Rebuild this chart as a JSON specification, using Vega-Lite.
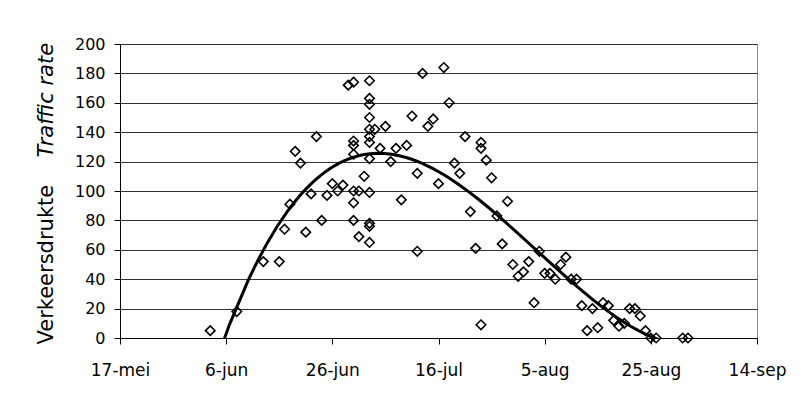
{
  "$schema": "https://vega.github.io/schema/vega-lite/v6.json",
  "width": 637,
  "height": 294,
  "autosize": {"type": "none"},
  "padding": {"left": 120, "top": 44, "right": 44, "bottom": 60},
  "background": "white",
  "data": {
    "values": [
      {"day": 154, "value": 5},
      {"day": 159, "value": 18},
      {"day": 164, "value": 52},
      {"day": 167, "value": 52},
      {"day": 168, "value": 74},
      {"day": 169, "value": 91},
      {"day": 170, "value": 127},
      {"day": 171, "value": 119},
      {"day": 172, "value": 72},
      {"day": 173, "value": 98},
      {"day": 174, "value": 137},
      {"day": 175, "value": 80},
      {"day": 176, "value": 97},
      {"day": 177, "value": 105},
      {"day": 178, "value": 100},
      {"day": 179, "value": 104},
      {"day": 180, "value": 172},
      {"day": 181, "value": 174},
      {"day": 181, "value": 134},
      {"day": 181, "value": 131},
      {"day": 181, "value": 125},
      {"day": 181, "value": 100},
      {"day": 181, "value": 92},
      {"day": 181, "value": 80},
      {"day": 182, "value": 100},
      {"day": 182, "value": 69},
      {"day": 183, "value": 110},
      {"day": 184, "value": 175},
      {"day": 184, "value": 163},
      {"day": 184, "value": 159},
      {"day": 184, "value": 150},
      {"day": 184, "value": 142},
      {"day": 184, "value": 137},
      {"day": 184, "value": 133},
      {"day": 184, "value": 122},
      {"day": 184, "value": 99},
      {"day": 184, "value": 78},
      {"day": 184, "value": 76},
      {"day": 184, "value": 65},
      {"day": 185, "value": 142},
      {"day": 186, "value": 129},
      {"day": 187, "value": 144},
      {"day": 188, "value": 120},
      {"day": 189, "value": 129},
      {"day": 190, "value": 94},
      {"day": 191, "value": 131},
      {"day": 192, "value": 151},
      {"day": 193, "value": 112},
      {"day": 193, "value": 59},
      {"day": 194, "value": 180},
      {"day": 195, "value": 144},
      {"day": 196, "value": 149},
      {"day": 197, "value": 105},
      {"day": 198, "value": 184},
      {"day": 199, "value": 160},
      {"day": 200, "value": 119},
      {"day": 201, "value": 112},
      {"day": 202, "value": 137},
      {"day": 203, "value": 86},
      {"day": 204, "value": 61},
      {"day": 205, "value": 133},
      {"day": 205, "value": 129},
      {"day": 205, "value": 9},
      {"day": 206, "value": 121},
      {"day": 207, "value": 109},
      {"day": 208, "value": 83},
      {"day": 209, "value": 64},
      {"day": 210, "value": 93},
      {"day": 211, "value": 50},
      {"day": 212, "value": 42},
      {"day": 213, "value": 45},
      {"day": 214, "value": 52},
      {"day": 215, "value": 24},
      {"day": 216, "value": 59},
      {"day": 217, "value": 44},
      {"day": 218, "value": 44},
      {"day": 219, "value": 40},
      {"day": 220, "value": 50},
      {"day": 221, "value": 55},
      {"day": 222, "value": 40},
      {"day": 223, "value": 40},
      {"day": 224, "value": 22},
      {"day": 225, "value": 5},
      {"day": 226, "value": 20},
      {"day": 227, "value": 7},
      {"day": 228, "value": 24},
      {"day": 229, "value": 22},
      {"day": 230, "value": 12},
      {"day": 231, "value": 8},
      {"day": 232, "value": 10},
      {"day": 233, "value": 20},
      {"day": 234, "value": 20},
      {"day": 235, "value": 15},
      {"day": 236, "value": 5},
      {"day": 237, "value": 0},
      {"day": 238, "value": 0},
      {"day": 243, "value": 0},
      {"day": 244, "value": 0}
    ]
  },
  "layer": [
    {
      "mark": {"type": "point", "shape": "diamond", "filled": false, "stroke": "black", "strokeWidth": 1.6, "size": 90, "opacity": 1},
      "encoding": {
        "x": {
          "field": "day",
          "type": "quantitative",
          "scale": {"domain": [137, 257], "nice": false, "zero": false},
          "axis": {
            "title": null,
            "values": [137, 157, 177, 197, 217, 237, 257],
            "labelExpr": "timeFormat(datetime(2006, 0, datum.value), '%-d-%b')",
            "grid": false,
            "labelFontSize": 17,
            "labelPadding": 18,
            "tickSize": 6,
            "labelAngle": 0,
            "labelOverlap": false,
            "labelFlush": false
          }
        },
        "y": {
          "field": "value",
          "type": "quantitative",
          "scale": {"domain": [0, 200], "nice": false},
          "axis": {
            "values": [0, 20, 40, 60, 80, 100, 120, 140, 160, 180, 200],
            "grid": true,
            "gridColor": "#333333",
            "gridOpacity": 1,
            "labelFontSize": 16,
            "labelPadding": 9,
            "tickSize": 6,
            "title": "Verkeersdrukte",
            "titleFontSize": 21,
            "titleAngle": 270,
            "titleX": -68,
            "titleY": 300,
            "titleAlign": "left",
            "titleBaseline": "alphabetic"
          }
        }
      }
    },
    {
      "transform": [{"regression": "value", "on": "day", "method": "poly", "order": 3}],
      "mark": {"type": "line", "color": "black", "strokeWidth": 3, "clip": true},
      "encoding": {
        "x": {"field": "day", "type": "quantitative"},
        "y": {
          "field": "value",
          "type": "quantitative",
          "scale": {"domain": [0, 200], "nice": false},
          "axis": {
            "orient": "left",
            "title": "Traffic rate",
            "titleFontStyle": "italic",
            "titleFontSize": 21,
            "titleAngle": 270,
            "titleX": -68,
            "titleY": 113,
            "titleAlign": "left",
            "titleBaseline": "alphabetic",
            "labels": false,
            "ticks": false,
            "domain": false,
            "grid": false
          }
        }
      }
    }
  ],
  "resolve": {"axis": {"y": "independent"}},
  "config": {
    "font": "DejaVu Sans",
    "view": {"stroke": "#8c8c8c", "strokeWidth": 1},
    "axis": {
      "domainColor": "black",
      "tickColor": "black",
      "labelColor": "black",
      "titleColor": "black",
      "labelFont": "DejaVu Sans",
      "titleFont": "DejaVu Sans",
      "titleFontWeight": "normal"
    },
    "locale": {
      "time": {
        "dateTime": "%a %e %B %Y %T",
        "date": "%d-%m-%Y",
        "time": "%H:%M:%S",
        "periods": ["AM", "PM"],
        "days": ["zondag", "maandag", "dinsdag", "woensdag", "donderdag", "vrijdag", "zaterdag"],
        "shortDays": ["zo", "ma", "di", "wo", "do", "vr", "za"],
        "months": ["januari", "februari", "maart", "april", "mei", "juni", "juli", "augustus", "september", "oktober", "november", "december"],
        "shortMonths": ["jan", "feb", "mrt", "apr", "mei", "jun", "jul", "aug", "sep", "okt", "nov", "dec"]
      }
    }
  }
}
